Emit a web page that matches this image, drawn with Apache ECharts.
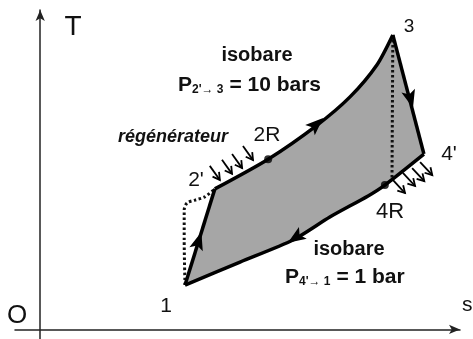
<!DOCTYPE html>
<html>
<head>
<meta charset="utf-8">
<script src="https://cdn.jsdelivr.net/npm/echarts@6/dist/echarts.min.js"></script>
<style>html,body{margin:0;padding:0;background:#fff}#c{width:473px;height:339px}</style>
</head>
<body>
<div id="c"></div>
<script>
// State points of the cycle (s, T in arbitrary units)
const stateNames = ['1', "2'", '2R', '3', "4'", '4R'];
const stateS = [3.45, 4.16, 5.43, 8.40, 9.14, 8.21];
const stateT = [1.39, 4.40, 5.33, 9.22, 5.49, 4.52];
// compression 1 -> 2'
const compS = [3.45, 4.16];
const compT = [1.39, 4.40];
// isobaric heating 2' -> 3 (P = 10 bars)
const heatS = [4.16, 5.43, 6.59, 7.38, 8.02, 8.40];
const heatT = [4.40, 5.33, 6.39, 7.28, 8.28, 9.22];
// expansion 3 -> 4'
const expS = [8.40, 9.14];
const expT = [9.22, 5.49];
// isobaric cooling 4' -> 1 (P = 1 bar)
const coolS = [9.14, 8.21, 7.81, 6.90, 6.02, 4.76, 3.45];
const coolT = [5.49, 4.52, 4.18, 3.52, 2.80, 2.11, 1.39];
// ideal (dotted) compression and expansion
const idealCompS = [3.45, 3.43, 3.43, 3.50, 3.69, 3.92, 4.16];
const idealCompT = [1.39, 2.80, 3.74, 3.96, 4.05, 4.15, 4.40];
const idealExpS = [8.40, 8.38];
const idealExpT = [9.22, 4.71];
// direction arrows on the cycle: tip and a point behind it
const arrowTipS = [3.84, 6.74, 8.88, 5.90];
const arrowTipT = [3.05, 6.62, 6.93, 2.71];
const arrowBackS = [3.45, 6.43, 8.40, 6.31];
const arrowBackT = [1.39, 6.24, 9.22, 3.07];
// regenerator heat arrows (in near 2', out near 4')
const heatInStartS = [4.04, 4.33, 4.57, 4.83];
const heatInStartT = [5.12, 5.31, 5.49, 5.74];
const heatInEndS = [4.28, 4.57, 4.81, 5.07];
const heatInEndT = [4.68, 4.87, 5.05, 5.30];
const heatOutStartS = [8.40, 8.64, 8.86, 9.05];
const heatOutStartT = [4.68, 4.90, 5.05, 5.24];
const heatOutEndS = [8.69, 8.93, 9.15, 9.34];
const heatOutEndT = [4.27, 4.49, 4.64, 4.83];

const zip = (a, b) => a.map((v, i) => [v, b[i]]);
const FONT = "'Liberation Sans', Arial, sans-serif";

const fillPts = [].concat(zip(compS, compT), zip(heatS, heatT).slice(1), zip(expS, expT).slice(1), zip(coolS, coolT).slice(1));

const chart = echarts.init(document.getElementById('c'), null, {renderer: 'canvas'});
const axisCommon = {
  type: 'value',
  axisLine: {show: true, onZero: true, symbol: ['none', 'arrow'], symbolSize: [7, 11],
    lineStyle: {color: '#222', width: 1.5}},
  axisTick: {show: false}, axisLabel: {show: false}, splitLine: {show: false}
};
const lineBase = {type: 'line', symbol: 'none', silent: true, animation: false};

function txt(text, x, y, size, extra) {
  return {
    type: 'text', x: x, y: y, silent: true,
    style: Object.assign({text: text, font: size + 'px ' + FONT, fill: '#111',
      align: 'center', verticalAlign: 'middle'}, (extra || {}))
  };
}

chart.setOption({
  animation: false,
  grid: {left: 15, right: 13, top: 10, bottom: 0, containLabel: false},
  xAxis: Object.assign({}, axisCommon, {min: -0.6, max: 10}),
  yAxis: Object.assign({}, axisCommon, {min: -0.3, max: 10}),
  series: [
    {
      type: 'custom', z: 1, silent: true,
      data: [[0, 0]],
      renderItem: function (params, api) {
        return {type: 'polygon', shape: {points: fillPts.map(p => api.coord(p))},
          style: {fill: '#a6a6a6'}};
      }
    },
    Object.assign({}, lineBase, {z: 2, data: zip(idealCompS, idealCompT), smooth: 0.3,
      lineStyle: {color: '#111', width: 3, type: [2.5, 2.5]}}),
    Object.assign({}, lineBase, {z: 2, data: zip(idealExpS, idealExpT),
      lineStyle: {color: '#111', width: 3, type: [2.5, 2.5]}}),
    Object.assign({}, lineBase, {z: 3, data: zip(compS, compT), lineStyle: {color: '#000', width: 3.5}}),
    Object.assign({}, lineBase, {z: 3, data: zip(heatS, heatT), smooth: 0.25, lineStyle: {color: '#000', width: 3.5}}),
    Object.assign({}, lineBase, {z: 3, data: zip(expS, expT), lineStyle: {color: '#000', width: 3.5}}),
    Object.assign({}, lineBase, {z: 3, data: zip(coolS, coolT), smooth: 0.25, lineStyle: {color: '#000', width: 3.5}}),
    {
      type: 'scatter', z: 4, silent: true, symbol: 'circle', symbolSize: 8,
      itemStyle: {color: '#000'},
      data: [[stateS[2], stateT[2]], [stateS[5], stateT[5]]]
    },
    {
      type: 'custom', z: 5, silent: true,
      data: arrowTipS.map((s, i) => [s, arrowTipT[i], arrowBackS[i], arrowBackT[i]]),
      renderItem: function (params, api) {
        const tip = api.coord([api.value(0), api.value(1)]);
        const back = api.coord([api.value(2), api.value(3)]);
        const dx = tip[0] - back[0], dy = tip[1] - back[1];
        const len = Math.hypot(dx, dy), ux = dx / len, uy = dy / len;
        const L = 18, W = 7;
        const bx = tip[0] - ux * L, by = tip[1] - uy * L;
        const nx = tip[0] - ux * L * 0.78, ny = tip[1] - uy * L * 0.78;
        return {type: 'polygon', shape: {points: [tip, [bx - uy * W, by + ux * W], [nx, ny], [bx + uy * W, by - ux * W]]},
          style: {fill: '#000'}};
      }
    },
    {
      type: 'custom', z: 5, silent: true,
      data: heatInStartS.map((s, i) => [s, heatInStartT[i], heatInEndS[i], heatInEndT[i]])
        .concat(heatOutStartS.map((s, i) => [s, heatOutStartT[i], heatOutEndS[i], heatOutEndT[i]])),
      renderItem: function (params, api) {
        const a = api.coord([api.value(0), api.value(1)]);
        const b = api.coord([api.value(2), api.value(3)]);
        const dx = b[0] - a[0], dy = b[1] - a[1];
        const len = Math.hypot(dx, dy), ux = dx / len, uy = dy / len;
        const L = 7, W = 4;
        const bx = b[0] - ux * L, by = b[1] - uy * L;
        return {type: 'group', children: [
          {type: 'line', shape: {x1: a[0], y1: a[1], x2: b[0], y2: b[1]}, style: {stroke: '#000', lineWidth: 1.8}},
          {type: 'polyline', shape: {points: [[bx - uy * W, by + ux * W], b, [bx + uy * W, by - ux * W]]},
            style: {stroke: '#000', lineWidth: 1.8, fill: null}}
        ]};
      }
    }
  ],
  graphic: [
    txt('T', 73, 27, 28),
    txt('O', 17, 316, 26),
    txt('s', 462, 305, 21, {align: 'left'}),
    txt(stateNames[0], 166, 306, 21),
    txt(stateNames[1], 196, 180, 21),
    txt(stateNames[2], 267, 135, 21),
    txt(stateNames[3], 409, 27, 19),
    txt(stateNames[4], 449, 154, 21),
    txt(stateNames[5], 390, 212, 22),
    txt('isobare', 257, 55, 20, {font: 'bold 20px ' + FONT}),
    {type: 'text', x: 178, y: 85, silent: true, style: {
      text: '{p|P}{s|2\'\u2192 3}{p| = 10 bars}', align: 'left', verticalAlign: 'middle',
      rich: {p: {font: 'bold 21px ' + FONT, fill: '#111', lineHeight: 22, verticalAlign: 'bottom'},
             s: {font: 'bold 12px ' + FONT, fill: '#111', lineHeight: 12, verticalAlign: 'bottom'}}}},
    txt('régénérateur', 173, 137, 18, {font: 'italic bold 18px ' + FONT}),
    txt('isobare', 349, 249, 20, {font: 'bold 20px ' + FONT}),
    {type: 'text', x: 285, y: 277, silent: true, style: {
      text: '{p|P}{s|4\'\u2192 1}{p| = 1 bar}', align: 'left', verticalAlign: 'middle',
      rich: {p: {font: 'bold 21px ' + FONT, fill: '#111', lineHeight: 22, verticalAlign: 'bottom'},
             s: {font: 'bold 12px ' + FONT, fill: '#111', lineHeight: 12, verticalAlign: 'bottom'}}}}
  ]
});
</script>
</body>
</html>
